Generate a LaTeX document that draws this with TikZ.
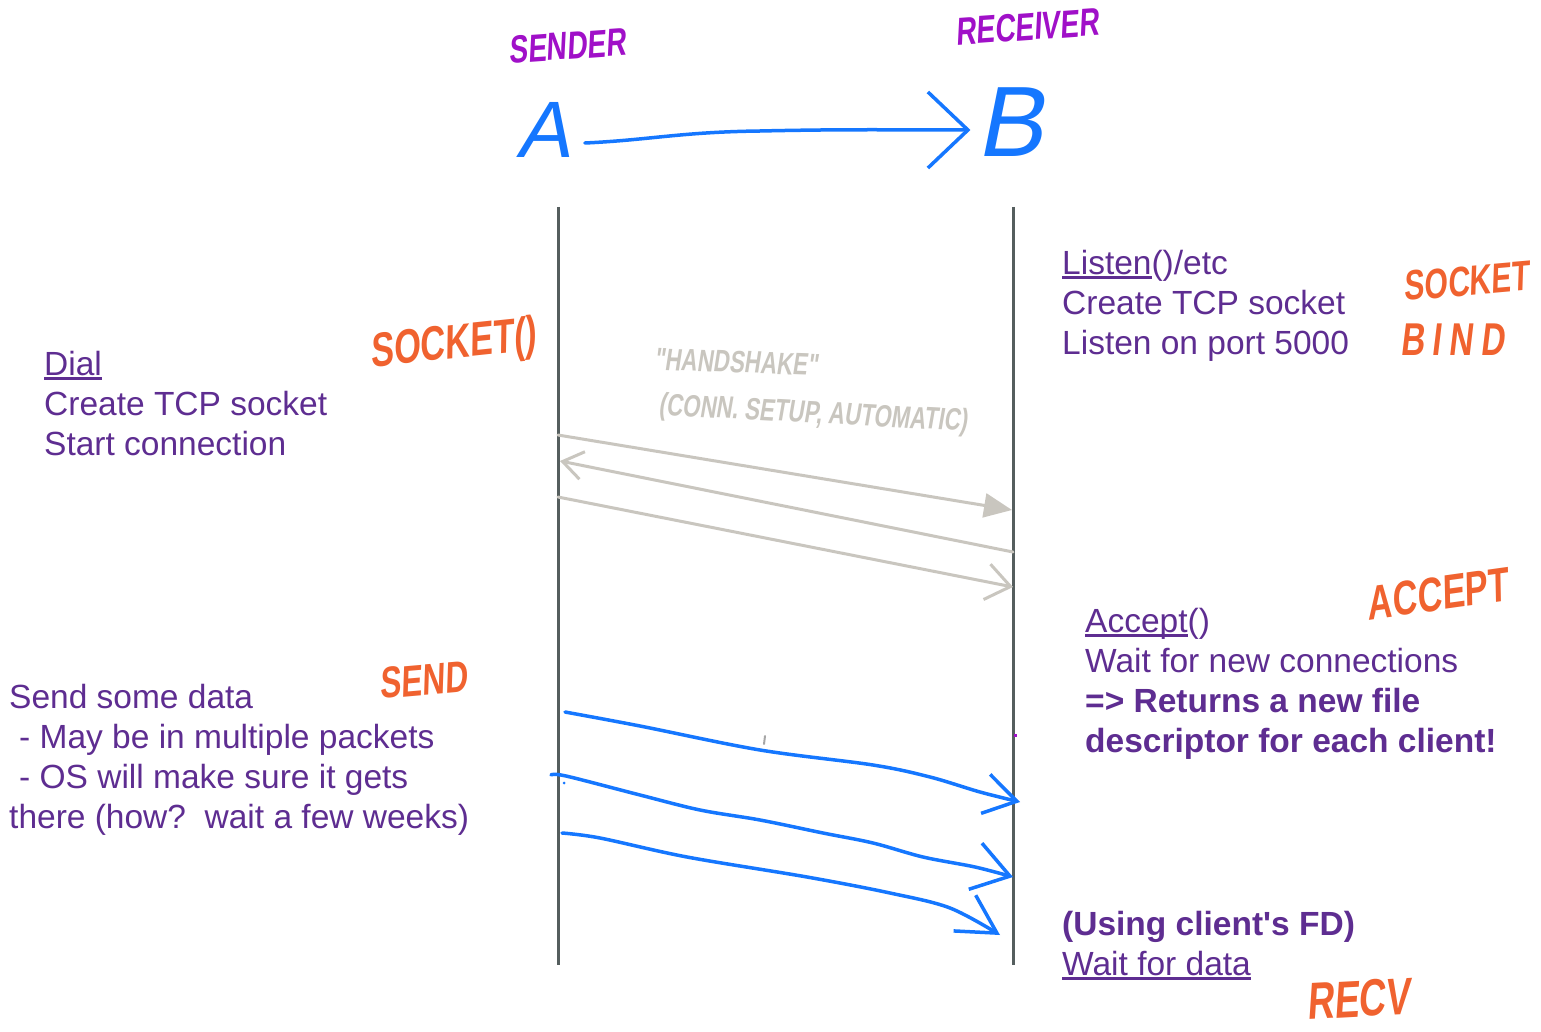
\documentclass[tikz,border=0pt]{standalone}
\usepackage{fontspec}
\setmainfont{Liberation Sans}
\newfontfamily\handf[FakeSlant=0.12,FakeStretch=0.72]{Liberation Sans}
\newfontfamily\handA[FakeSlant=0.2]{Liberation Sans}
\usetikzlibrary{arrows.meta}
\definecolor{txtpurple}{HTML}{5E2D91}
\definecolor{handorange}{HTML}{F0622F}
\definecolor{handmagenta}{HTML}{A010C8}
\definecolor{handblue}{HTML}{1577FF}
\definecolor{shakegray}{HTML}{C9C6BF}
\definecolor{lifegray}{HTML}{555E5E}
\newcommand\myul[1]{\setbox0=\hbox{#1}\rlap{\color{txtpurple}\rule[-4.5pt]{\wd0}{2.2pt}}\box0}
\begin{document}
\begin{tikzpicture}[x=1pt,y=-1pt,
  txt/.style={text=txtpurple, font=\fontsize{33.5}{40}\selectfont, align=left, anchor=base west, inner sep=0pt},
  handorg/.style={text=handorange, inner sep=0pt},
  handmag/.style={text=handmagenta, inner sep=0pt},
  handgray/.style={text=shakegray, inner sep=0pt},
  letter/.style={text=handblue, inner sep=0pt},
  life/.style={draw=lifegray, line width=3pt},
  shake/.style={draw=shakegray, fill=shakegray, line width=3pt, line cap=round, line join=round},
  bluearrow/.style={draw=handblue, line width=3.5pt, line cap=round, line join=round}
]
\fill[white] (0,0) rectangle (1541,1032);
\useasboundingbox (0,0) rectangle (1541,1032);

% headings
\node[handmag, font=\handf\bfseries\fontsize{39}{40}\selectfont, rotate=4] (sender) at (567,46) {SENDER};
\node[handmag, font=\handf\bfseries\fontsize{39}{40}\selectfont, rotate=4] (receiver) at (1027,27) {RECEIVER};
\node[letter, font=\handA\fontsize{80}{80}\selectfont] (A) at (543,130) {A};
\node[letter, font=\handA\fontsize{100}{100}\selectfont] (B) at (1010,122) {B};
\draw[bluearrow, -{Straight Barb[length=40pt,width=76pt]}]
  ([xshift=15pt,yshift=-13pt]A.east) .. controls (650,140) and (680,132) .. (760,131)
  .. controls (850,129) and (900,130) .. ([xshift=-6pt,yshift=-8pt]B.west);

% lifelines
\coordinate (stop) at (558,207);
\coordinate (sbot) at (558,965);
\coordinate (rtop) at (1013,207);
\coordinate (rbot) at (1013,965);
\draw[life] (stop) -- (sbot);
\draw[life] (rtop) -- (rbot);

% text blocks (anchored at the baseline of the last line)
\node[txt] (dial) at (44,455) {\myul{Dial}\\Create TCP socket\\Start connection};
\node[txt] (listen) at (1062,354) {\myul{Listen}()/etc\\Create TCP socket\\Listen on port 5000};
\node[txt] (accept) at (1085,752) {\myul{Accept}()\\Wait for new connections\\\textbf{=> Returns a new file}\\\textbf{descriptor for each client!}};
\node[txt] (send) at (9,828) {Send some data\\\hspace*{10pt}- May be in multiple packets\\\hspace*{10pt}- OS will make sure it gets\\there (how?\ \ wait a few weeks)};
\node[txt] (using) at (1062,975) {\textbf{(Using client\textquotesingle s FD)}\\\myul{Wait for data}};

% orange handwritten labels
\node[handorg, font=\handf\bfseries\fontsize{48}{48}\selectfont, rotate=6] (socketA) at (453,346) {SOCKET()};
\node[handorg, font=\handf\bfseries\fontsize{42}{42}\selectfont, rotate=5] (socketB) at (1466,281) {SOCKET};
\node[handorg, font=\handf\bfseries\fontsize{46}{46}\selectfont] (bind) at (1452,340) {B\,I\,N\,D};
\node[handorg, font=\handf\bfseries\fontsize{48}{48}\selectfont, rotate=8] (acceptlbl) at (1437,594) {ACCEPT};
\node[handorg, font=\handf\bfseries\fontsize{44}{44}\selectfont, rotate=5] (sendlbl) at (423,680) {SEND};
\node[handorg, font=\handf\bfseries\fontsize{52}{52}\selectfont, rotate=3] (recvlbl) at (1358,999) {RECV};

% handshake
\node[handgray, font=\handf\bfseries\fontsize{31}{31}\selectfont, rotate=-2] (hs) at (736,362) {"HANDSHAKE"};
\node[handgray, font=\handf\bfseries\fontsize{31}{31}\selectfont, rotate=-3] (hsnote) at (813,415) {(CONN. SETUP, AUTOMATIC)};
\coordinate (h1s) at (558,435);
\coordinate (h1r) at (1012,510);
\coordinate (h2r) at (1013,552);
\coordinate (h2s) at (560,461);
\coordinate (h3s) at (558,497);
\coordinate (h3r) at (1013,587);
\draw[shake, -{Triangle[length=28pt,width=24pt]}] (h1s) -- (h1r);
\draw[shake, -{Straight Barb[length=20pt,width=28pt]}] (h2r) -- (h2s);
\draw[shake, -{Straight Barb[length=24pt,width=36pt]}] (h3s) -- (h3r);

% data arrows
\coordinate (d1s) at (565,712);
\coordinate (d1r) at (1020,802);
\coordinate (d2s) at (551,775);
\coordinate (d2r) at (1013,877);
\coordinate (d3s) at (562,833);
\coordinate (d3r) at (1000,935);
\draw[bluearrow, -{Straight Barb[length=32pt,width=40pt]}]
  plot[smooth, tension=0.55] coordinates {(d1s) (640,726) (760,750) (873,765) (930,777) (980,792) (d1r)};
\draw[bluearrow, -{Straight Barb[length=36pt,width=48pt]}]
  plot[smooth, tension=0.55] coordinates {(d2s) (566,776) (640,795) (700,810) (760,820) (823,833) (873,843) (923,857) (975,867) (d2r)};
\draw[bluearrow, -{Straight Barb[length=38pt,width=42pt]}]
  plot[smooth, tension=0.55] coordinates {(d3s) (600,838) (687,857) (807,877) (890,893) (950,908) (d3r)};

% small stray marks
\draw[draw=gray!70, line width=2pt, line cap=round] (765,736) -- (764,744);
\fill[handmagenta] (1014,734) rectangle (1017,737);
\fill[handblue] (564,783) circle (1.5pt);
\end{tikzpicture}
\end{document}
